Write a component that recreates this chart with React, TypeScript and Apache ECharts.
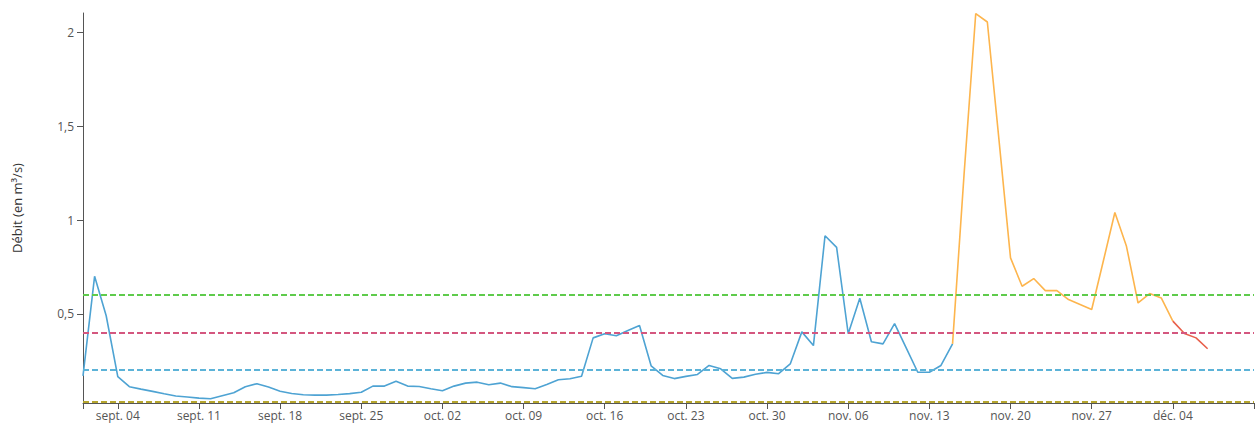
import React, { useEffect, useRef } from "react";
import * as echarts from "echarts";

// Dates: daily from 1 Sept to 11 Dec
const startYear = 2022;
const startMonth = 8; // September (0-based)
const startDay = 1;
const dayCount = 102;
const monthAbbr = ["janv.", "févr.", "mars", "avr.", "mai", "juin", "juil.", "août", "sept.", "oct.", "nov.", "déc."];

const dates: string[] = [];
for (let i = 0; i < dayCount; i++) {
  const d = new Date(startYear, startMonth, startDay + i);
  dates.push(monthAbbr[d.getMonth()] + " " + String(d.getDate()).padStart(2, "0"));
}

// Observed flow (blue), from 1 Sept (index 0) to index 75
const observed = [
  0.17, 0.70, 0.49, 0.165, 0.112, 0.099, 0.087, 0.074, 0.062, 0.057,
  0.051, 0.048, 0.064, 0.080, 0.112, 0.128, 0.110, 0.088, 0.076, 0.069,
  0.067, 0.067, 0.070, 0.075, 0.082, 0.115, 0.115, 0.141, 0.115, 0.113,
  0.101, 0.090, 0.115, 0.131, 0.136, 0.122, 0.131, 0.112, 0.107, 0.101,
  0.124, 0.149, 0.154, 0.168, 0.372, 0.394, 0.383, 0.411, 0.438, 0.223,
  0.172, 0.155, 0.167, 0.177, 0.225, 0.207, 0.156, 0.163, 0.178, 0.188,
  0.181, 0.233, 0.404, 0.331, 0.916, 0.854, 0.394, 0.583, 0.351, 0.340,
  0.448, 0.319, 0.189, 0.189, 0.225, 0.340,
];

// Provisional flow (orange), starting at index 75
const provisionalStart = 75;
const provisional = [
  0.340, 1.25, 2.10, 2.055, 1.43, 0.798, 0.647, 0.688, 0.624, 0.624,
  0.576, 0.550, 0.523, 0.78, 1.04, 0.86, 0.558, 0.608, 0.585, 0.461,
];

// Forecast flow (red), starting at index 94
const forecastStart = 94;
const forecast = [0.461, 0.395, 0.372, 0.314];

// Threshold lines
const thresholdValues = [0.6, 0.4, 0.2, 0.03];
const thresholdColors = ["#5fcb4c", "#d4577f", "#5cb3d8", "#b6a62e"];

const yMin = 0.025;
const yMax = 2.103;

function pad(values: number[], start: number): (number | null)[] {
  const out: (number | null)[] = [];
  for (let i = 0; i < dayCount; i++) {
    const k = i - start;
    out.push(k >= 0 && k < values.length ? values[k] : null);
  }
  return out;
}

export default function App() {
  const ref = useRef<HTMLDivElement>(null);
  useEffect(() => {
    document.body.style.margin = "0";
    if (!ref.current) return;
    const chart = echarts.init(ref.current, undefined, { renderer: "svg" });
    const firstTick = 3;
    const lastTick = 94;
    chart.setOption({
      animation: false,
      backgroundColor: "#ffffff",
      grid: { left: 83, right: 1, top: 13, bottom: 20, containLabel: false },
      xAxis: {
        type: "category",
        data: dates,
        boundaryGap: false,
        axisLine: { show: true, lineStyle: { color: "#555", width: 1 } },
        axisTick: {
          show: true,
          length: 6,
          lineStyle: { color: "#555" },
          interval: (idx: number) => idx === 0 || idx === dayCount - 1 || ((idx - firstTick) % 7 === 0 && idx >= firstTick),
        },
        axisLabel: {
          show: true,
          margin: 6,
          color: "#555",
          fontSize: 12,
          lineHeight: 12,
          fontFamily: "Open Sans",
          interval: (idx: number) => idx >= firstTick && idx <= lastTick && (idx - firstTick) % 7 === 0,
        },
        splitLine: { show: false },
      },
      yAxis: {
        type: "value",
        min: yMin,
        max: yMax,
        splitNumber: 5,
        name: "Débit (en m³/s)",
        nameLocation: "middle",
        nameGap: 60,
        nameTextStyle: { color: "#333", fontSize: 13, fontFamily: "Open Sans" },
        axisLine: { show: true, lineStyle: { color: "#555", width: 1 } },
        axisTick: { show: true, length: 6, lineStyle: { color: "#555" } },
        axisLabel: {
          show: true,
          color: "#555",
          fontSize: 12,
          fontFamily: "Open Sans",
          margin: 9,
          showMinLabel: false,
          showMaxLabel: false,
          formatter: (v: number) => String(v).replace(".", ","),
        },
        splitLine: { show: false },
      },
      series: [
        {
          type: "line",
          data: [],
          silent: true,
          markLine: {
            silent: true,
            symbol: ["none", "none"],
            label: { show: false },
            data: thresholdValues.map((v, i) => ({
              yAxis: v,
              lineStyle: { color: thresholdColors[i], type: [6, 3], width: 2 },
            })),
          },
        },
        {
          type: "line",
          data: pad(observed, 0),
          showSymbol: false,
          symbol: "none",
          lineStyle: { color: "#4ea3d3", width: 1.6 },
        },
        {
          type: "line",
          data: pad(provisional, provisionalStart),
          showSymbol: false,
          symbol: "none",
          lineStyle: { color: "#fdb54d", width: 1.6 },
        },
        {
          type: "line",
          data: pad(forecast, forecastStart),
          showSymbol: false,
          symbol: "none",
          lineStyle: { color: "#e8604c", width: 1.6 },
        },
      ],
    });
    return () => chart.dispose();
  }, []);
  return <div ref={ref} style={{ width: 1255, height: 423 }} />;
}
